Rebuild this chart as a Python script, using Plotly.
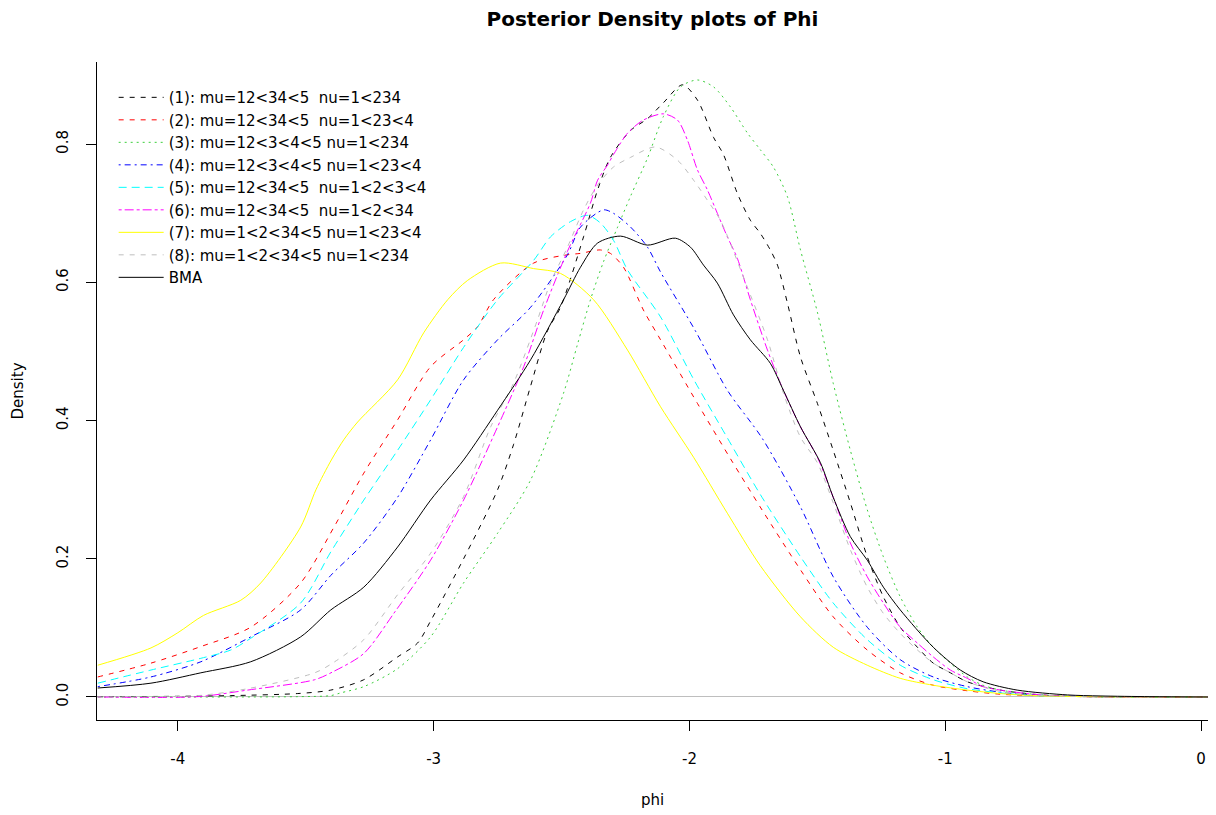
import plotly.graph_objects as go

# posterior density estimates of phi
x1 = [-4.313, -4.0, -3.793, -3.531, -3.402, -3.273, -3.141, -3.063, -3.012, -2.883, -2.75, -2.688, -2.621, -2.555,
      -2.504, -2.414, -2.359, -2.309, -2.23, -2.164, -2.102, -2.027, -1.969, -1.906, -1.867, -1.813, -1.762, -1.723,
      -1.684, -1.656, -1.617, -1.566, -1.5, -1.438, -1.371, -1.305, -1.242, -1.176, -1.109, -1.047, -0.98, -0.914,
      -0.785, -0.656, -0.523, 0.027]
y1 = [0.0003, 0.001, 0.002, 0.005, 0.010, 0.025, 0.058, 0.078, 0.11, 0.20, 0.30, 0.365, 0.45, 0.53,
      0.564, 0.666, 0.734, 0.781, 0.82, 0.837, 0.86, 0.886, 0.864, 0.81, 0.785, 0.729, 0.69, 0.671,
      0.647, 0.625, 0.57, 0.492, 0.425, 0.357, 0.281, 0.203, 0.145, 0.101, 0.072, 0.049, 0.035, 0.022,
      0.010, 0.004, 0.001, 0.0]

x2 = [-4.313, -4.105, -3.91, -3.715, -3.52, -3.391, -3.273, -3.141, -3.012, -2.883, -2.828, -2.766, -2.609, -2.477,
      -2.426, -2.348, -2.309, -2.258, -2.18, -2.113, -1.969, -1.84, -1.715, -1.566, -1.438, -1.305, -1.176, -1.047,
      -0.914, -0.785, -0.656, -0.395, 0.027]
y2 = [0.029, 0.049, 0.073, 0.101, 0.165, 0.245, 0.324, 0.401, 0.478, 0.517, 0.536, 0.575, 0.628, 0.64,
      0.642, 0.647, 0.642, 0.622, 0.56, 0.517, 0.425, 0.345, 0.27, 0.184, 0.116, 0.068, 0.035, 0.017,
      0.009, 0.004, 0.002, 0.0003, 0.0]

x3 = [-4.313, -3.531, -3.402, -3.363, -3.273, -3.141, -3.012, -2.883, -2.75, -2.621, -2.492, -2.438, -2.387, -2.336,
      -2.281, -2.23, -2.164, -2.102, -2.035, -1.969, -1.906, -1.84, -1.773, -1.723, -1.672, -1.617, -1.566, -1.5,
      -1.438, -1.371, -1.305, -1.242, -1.176, -1.109, -1.047, -0.98, -0.914, -0.852, -0.785, -0.656, -0.523, 0.027]
y3 = [0.0, 0.0005, 0.002, 0.006, 0.015, 0.041, 0.087, 0.165, 0.237, 0.314, 0.44, 0.51, 0.575, 0.63,
      0.68, 0.725, 0.78, 0.84, 0.883, 0.893, 0.883, 0.854, 0.816, 0.792, 0.767, 0.724, 0.647, 0.557,
      0.454, 0.357, 0.271, 0.203, 0.145, 0.101, 0.072, 0.049, 0.029, 0.017, 0.010, 0.004, 0.001, 0.0]

x4 = [-4.313, -4.105, -3.91, -3.715, -3.52, -3.402, -3.273, -3.141, -3.012, -2.883, -2.75, -2.621, -2.477, -2.426,
      -2.336, -2.297, -2.23, -2.164, -2.113, -1.977, -1.852, -1.715, -1.566, -1.438, -1.305, -1.176, -1.047, -0.914,
      -0.785, -0.656, -0.395, 0.027]
y4 = [0.015, 0.029, 0.051, 0.087, 0.126, 0.176, 0.223, 0.289, 0.372, 0.459, 0.517, 0.564, 0.64, 0.68,
      0.705, 0.70, 0.68, 0.651, 0.615, 0.53, 0.444, 0.374, 0.275, 0.174, 0.101, 0.054, 0.029, 0.015,
      0.007, 0.003, 0.0005, 0.0]

x5 = [-4.313, -4.105, -3.91, -3.793, -3.715, -3.52, -3.402, -3.273, -3.141, -3.012, -2.883, -2.75, -2.609, -2.543,
      -2.465, -2.398, -2.348, -2.297, -2.242, -2.113, -1.984, -1.852, -1.723, -1.566, -1.438, -1.305, -1.176, -1.047,
      -0.914, -0.785, -0.656, -0.395, 0.027]
y5 = [0.020, 0.039, 0.056, 0.068, 0.085, 0.136, 0.21, 0.285, 0.357, 0.43, 0.506, 0.575, 0.632, 0.666,
      0.688, 0.697, 0.686, 0.661, 0.618, 0.55, 0.46, 0.375, 0.293, 0.203, 0.136, 0.083, 0.046, 0.025,
      0.012, 0.006, 0.002, 0.0004, 0.0]

x6 = [-4.313, -3.922, -3.727, -3.465, -3.391, -3.273, -3.152, -3.012, -2.883, -2.75, -2.648, -2.57, -2.477, -2.387,
      -2.359, -2.32, -2.297, -2.242, -2.18, -2.102, -2.047, -2.008, -1.969, -1.93, -1.891, -1.852, -1.813, -1.762,
      -1.695, -1.633, -1.566, -1.5, -1.438, -1.371, -1.305, -1.242, -1.176, -1.109, -1.047, -0.98, -0.914, -0.852,
      -0.785, -0.656, -0.523, 0.027]
y6 = [0.0, 0.0005, 0.01, 0.025, 0.037, 0.063, 0.123, 0.198, 0.285, 0.391, 0.478, 0.56, 0.645, 0.715,
      0.748, 0.77, 0.785, 0.816, 0.835, 0.844, 0.835, 0.806, 0.763, 0.734, 0.70, 0.666, 0.635, 0.575,
      0.502, 0.444, 0.391, 0.347, 0.289, 0.223, 0.174, 0.136, 0.101, 0.078, 0.058, 0.039, 0.027, 0.015,
      0.010, 0.004, 0.001, 0.0]

x7 = [-4.313, -4.105, -4.0, -3.9, -3.754, -3.676, -3.52, -3.46, -3.40, -3.35, -3.297, -3.141, -3.039, -2.945,
      -2.867, -2.738, -2.609, -2.504, -2.375, -2.242, -2.113, -1.984, -1.852, -1.723, -1.566, -1.438, -1.305, -1.176,
      -1.047, -0.914, -0.785, -0.656, -0.395, 0.027]
y7 = [0.046, 0.071, 0.093, 0.118, 0.14, 0.165, 0.246, 0.30, 0.343, 0.373, 0.398, 0.459, 0.527, 0.575,
      0.603, 0.628, 0.62, 0.613, 0.575, 0.502, 0.42, 0.347, 0.266, 0.19, 0.116, 0.072, 0.046, 0.027,
      0.017, 0.010, 0.005, 0.002, 0.0003, 0.0]

x8 = [-4.313, -3.922, -3.727, -3.465, -3.391, -3.273, -3.141, -3.012, -2.883, -2.777, -2.688, -2.594, -2.543, -2.477,
      -2.414, -2.359, -2.297, -2.23, -2.133, -2.047, -1.984, -1.93, -1.879, -1.828, -1.781, -1.695, -1.633, -1.566,
      -1.5, -1.438, -1.371, -1.305, -1.242, -1.176, -1.109, -1.047, -0.98, -0.914, -0.785, -0.656, -0.523, 0.027]
y8 = [0.0, 0.002, 0.012, 0.035, 0.05, 0.083, 0.148, 0.208, 0.29, 0.391, 0.454, 0.546, 0.6, 0.651,
      0.705, 0.741, 0.767, 0.781, 0.796, 0.777, 0.748, 0.719, 0.69, 0.645, 0.6, 0.517, 0.44, 0.376,
      0.339, 0.281, 0.213, 0.159, 0.121, 0.092, 0.068, 0.049, 0.035, 0.022, 0.008, 0.003, 0.001, 0.0]

x_bma = [-4.313, -4.105, -3.91, -3.715, -3.52, -3.402, -3.273, -3.141, -3.012, -2.883, -2.75, -2.621, -2.492, -2.426,
         -2.359, -2.27, -2.164, -2.055, -1.996, -1.945, -1.891, -1.828, -1.762, -1.684, -1.633, -1.566, -1.488, -1.438,
         -1.371, -1.305, -1.242, -1.176, -1.047, -0.941, -0.852, -0.719, -0.523, -0.395, -0.2, 0.027]
y_bma = [0.013, 0.020, 0.035, 0.051, 0.087, 0.126, 0.159, 0.217, 0.285, 0.343, 0.415, 0.488, 0.575, 0.622,
         0.657, 0.667, 0.654, 0.664, 0.651, 0.625, 0.599, 0.553, 0.517, 0.483, 0.444, 0.391, 0.339, 0.289,
         0.232, 0.198, 0.159, 0.126, 0.072, 0.039, 0.022, 0.010, 0.003, 0.0015, 0.0005, 0.0]

names = ["(1): mu=12<34<5 \u00a0nu=1<234", "(2): mu=12<34<5 \u00a0nu=1<23<4", "(3): mu=12<3<4<5 nu=1<234",
         "(4): mu=12<3<4<5 nu=1<23<4", "(5): mu=12<34<5 \u00a0nu=1<2<3<4", "(6): mu=12<34<5 \u00a0nu=1<2<34",
         "(7): mu=1<2<34<5 nu=1<23<4", "(8): mu=1<2<34<5 nu=1<234", "BMA"]
xs = [x1, x2, x3, x4, x5, x6, x7, x8, x_bma]
ys = [y1, y2, y3, y4, y5, y6, y7, y8, y_bma]

colors = ['black', 'red', '#3ccf3c', 'blue', 'cyan', 'magenta', 'yellow', '#bebebe', 'black']
dashes = ['5px,6px', '5px,6px', '2px,4px', '2px,4px,6px,4px', '8px,5px', '3px,3px,9px,3px',
          'solid', '5px,6px', 'solid']

tick_vals = [-4, -3, -2, -1, 0]
tick_text = ['-4', '-3', '-2', '-1', '0']

font = 'DejaVu Sans, Arial, sans-serif'

fig = go.Figure()
for name, xx, yy, c, d in zip(names, xs, ys, colors, dashes):
    fig.add_trace(go.Scatter(x=xx, y=yy, mode='lines', name=name, cliponaxis=False,
                             line=dict(color=c, width=1, dash=d, shape='spline', smoothing=0.8)))

# the page body adds an 8px margin, so the figure is 8px smaller on each side
fig.update_layout(
    width=1208, height=807,
    template='plotly_white',
    plot_bgcolor='white', paper_bgcolor='white',
    margin=dict(l=89, r=8, t=54, b=95, autoexpand=False),
    font=dict(family=font, size=15, color='black'),
    title=dict(text='<b>Posterior Density plots of Phi</b>', x=0.5, xref='paper', xanchor='center',
               y=1 - 11 / 807, yanchor='middle', font=dict(size=20)),
    showlegend=True,
    legend=dict(x=0.015, y=0.971, xanchor='left', yanchor='top', bgcolor='rgba(0,0,0,0)',
                font=dict(size=15), itemwidth=45, tracegroupgap=0),
    xaxis=dict(range=[-4.316, 0.027], showgrid=False, zeroline=False, showline=True, linecolor='black',
               linewidth=1, ticks='outside', ticklen=10, tickcolor='black', tickvals=tick_vals,
               ticktext=tick_text, ticklabelstandoff=15, tickfont=dict(size=15), automargin=False,
               title=dict(text='phi', standoff=27, font=dict(size=15))),
    yaxis=dict(range=[-0.0333, 0.919], showgrid=False, zeroline=True, zerolinecolor='#bebebe',
               zerolinewidth=1, showline=True, linecolor='black', linewidth=1, ticks='outside',
               ticklen=10, tickcolor='black', tickvals=[0, 0.2, 0.4, 0.6, 0.8],
               ticktext=['0.0', '0.2', '0.4', '0.6', '0.8'], tickangle=-90, ticklabelstandoff=12,
               tickfont=dict(size=15), automargin=False,
               title=dict(text='Density', standoff=26, font=dict(size=15))),
)

fig.write_html("out.html")
